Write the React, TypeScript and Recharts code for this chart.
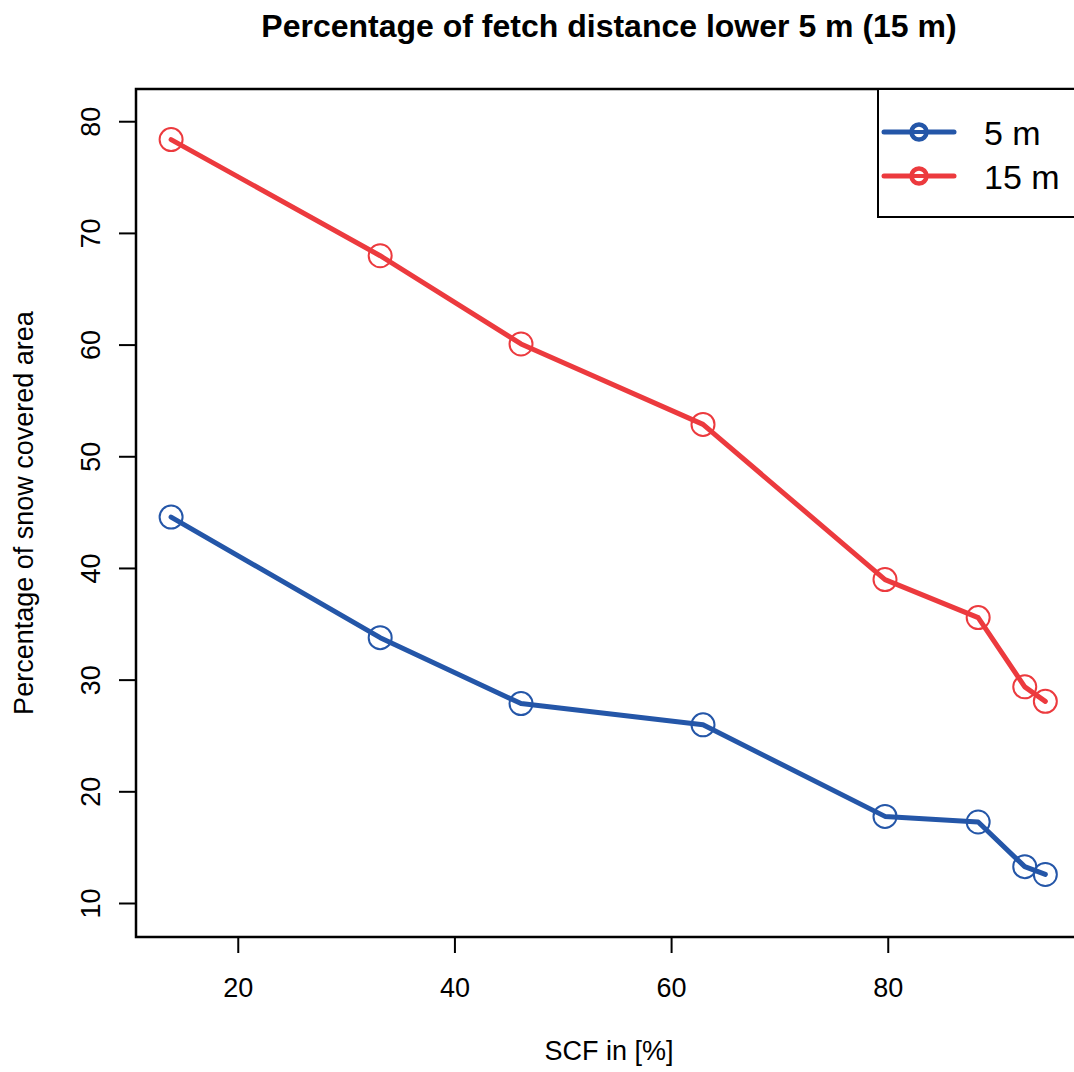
import React from 'react';
import {
  LineChart,
  Line,
  XAxis,
  YAxis,
  ReferenceArea,
} from 'recharts';

const scf = [13.8, 33.1, 46.1, 62.9, 79.7, 88.3, 92.6, 94.5];
const area5m = [44.6, 33.8, 27.9, 26.0, 17.8, 17.3, 13.3, 12.6];
const area15m = [78.4, 68.0, 60.1, 52.9, 39.0, 35.6, 29.4, 28.1];
const xTicks = [20, 40, 60, 80];
const yTicks = [10, 20, 30, 40, 50, 60, 70, 80];

const BLUE = '#2456a8';
const RED = '#ec3a3e';
const FONT = '"Liberation Sans", Arial, sans-serif';

const data = scf.map((x, i) => ({ scf: x, m5: area5m[i], m15: area15m[i] }));

function RingDot({ cx, cy, stroke }: { cx?: number; cy?: number; stroke?: string }) {
  if (cx == null || cy == null) return null;
  return <circle cx={cx} cy={cy} r={11.5} fill="none" stroke={stroke} strokeWidth={2} />;
}

function XTick({ x, y, payload }: { x?: number; y?: number; payload?: { value: number } }) {
  return (
    <text x={x} y={(y ?? 0) + 44} textAnchor="middle" fontSize={27} fontFamily={FONT} fill="#000">
      {payload?.value}
    </text>
  );
}

function YTick({ x, y, payload }: { x?: number; y?: number; payload?: { value: number } }) {
  const bx = (x ?? 0) - 19;
  return (
    <text
      x={bx}
      y={y}
      transform={`rotate(-90, ${bx}, ${y})`}
      textAnchor="middle"
      fontSize={27}
      fontFamily={FONT}
      fill="#000"
    >
      {payload?.value}
    </text>
  );
}

// legend drawn as an overlay so it doesn't eat into the plot area
function LegendBox() {
  const rows = [
    { label: '5 m', color: BLUE, y: 44 },
    { label: '15 m', color: RED, y: 88 },
  ];
  return (
    <svg width={197} height={131} style={{ position: 'absolute', left: 877, top: 88, display: 'block' }}>
      <rect x={1} y={1} width={210} height={128} fill="#fff" stroke="#000" strokeWidth={2} />
      {rows.map(r => (
        <g key={r.label}>
          <line x1={7} x2={77} y1={r.y} y2={r.y} stroke={r.color} strokeWidth={5} strokeLinecap="round" />
          <circle cx={42} cy={r.y} r={7.5} fill="#fff" stroke={r.color} strokeWidth={4.5} />
          <line x1={36} x2={48} y1={r.y} y2={r.y} stroke={r.color} strokeWidth={4} />
          <text x={107} y={r.y + 13} fontSize={34} fontFamily={FONT} fill="#000">
            {r.label}
          </text>
        </g>
      ))}
    </svg>
  );
}

export default function App() {
  return (
    <div
      style={{
        position: 'relative',
        width: 1074,
        height: 1072,
        overflow: 'hidden',
        background: '#fff',
        fontFamily: FONT,
      }}
    >
      <style>{'html, body { margin: 0; padding: 0; overflow: hidden; }'}</style>
      <LineChart
        width={1084}
        height={1072}
        data={data}
        margin={{ top: 89, right: 4, left: 0, bottom: 0 }}
      >
        <XAxis
          dataKey="scf"
          type="number"
          domain={[10.56, 97.7]}
          ticks={xTicks}
          allowDataOverflow
          tickSize={16}
          tickMargin={0}
          height={135}
          axisLine={false}
          tickLine={{ stroke: '#000', strokeWidth: 2 }}
          tick={<XTick />}
        />
        <YAxis
          type="number"
          domain={[7.0, 82.93]}
          ticks={yTicks}
          allowDataOverflow
          width={136}
          tickSize={17}
          tickMargin={0}
          axisLine={false}
          tickLine={{ stroke: '#000', strokeWidth: 2 }}
          tick={<YTick />}
        />
        <ReferenceArea
          x1={10.56}
          x2={97.7}
          y1={7.0}
          y2={82.93}
          fill="none"
          stroke="#000"
          strokeWidth={2.5}
          ifOverflow="visible"
        />
        <Line
          dataKey="m5"
          name="5 m"
          type="linear"
          stroke={BLUE}
          strokeWidth={5}
          strokeLinejoin="round"
          strokeLinecap="round"
          dot={<RingDot />}
          activeDot={false}
          isAnimationActive={false}
        />
        <Line
          dataKey="m15"
          name="15 m"
          type="linear"
          stroke={RED}
          strokeWidth={5}
          strokeLinejoin="round"
          strokeLinecap="round"
          dot={<RingDot />}
          activeDot={false}
          isAnimationActive={false}
        />
      </LineChart>
      <LegendBox />
      <div
        style={{
          position: 'absolute',
          left: 0,
          width: 1218,
          top: 8,
          textAlign: 'center',
          fontSize: 32,
          fontWeight: 'bold',
          lineHeight: '36px',
        }}
      >
        Percentage of fetch distance lower 5 m (15 m)
      </div>
      <svg width={1074} height={1072} style={{ position: 'absolute', left: 0, top: 0, pointerEvents: 'none' }}>
        <text
          x={33}
          y={513}
          transform="rotate(-90, 33, 513)"
          textAnchor="middle"
          fontSize={27}
          fontFamily={FONT}
          fill="#000"
        >
          Percentage of snow covered area
        </text>
        <text x={609} y={1060} textAnchor="middle" fontSize={27} fontFamily={FONT} fill="#000">
          SCF in [%]
        </text>
      </svg>
    </div>
  );
}
